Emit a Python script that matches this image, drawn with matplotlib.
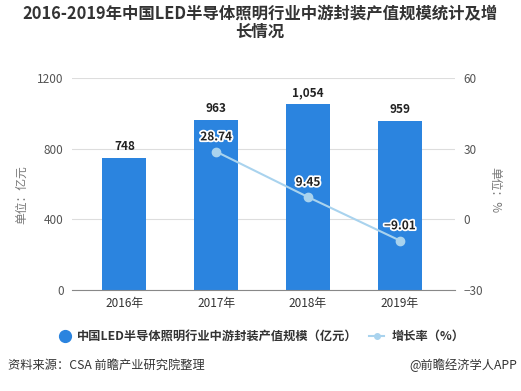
import matplotlib
matplotlib.use("Agg")
import matplotlib.pyplot as plt
import matplotlib.patheffects as pe
from matplotlib.lines import Line2D

plt.rcParams['font.family'] = ['Noto Sans CJK SC', 'DejaVu Sans']

years = ['2016年', '2017年', '2018年', '2019年']
values = [748, 963, 1054, 959]
value_labels = ['748', '963', '1,054', '959']
growth_years = [1, 2, 3]
growth = [28.74, 9.45, -9.01]
growth_labels = ['28.74', '9.45', '−9.01']

W, H = 521, 391
fig = plt.figure(figsize=(W/100, H/100), dpi=100)
L, R, T, B = 72, 455, 78, 290
ax = fig.add_axes([L/W, 1-B/H, (R-L)/W, (B-T)/H])
ax2 = ax.twinx()

bar_color = '#2b84df'
line_color = '#a9d3ee'
x = list(range(len(years)))
ax.bar(x, values, width=0.48, color=bar_color, zorder=2)
ax.set_ylim(0, 1200)
ax.set_yticks([0, 400, 800, 1200])
ax.set_xlim(-0.57, 3.6)
ax.set_xticks(x)
ax.set_xticklabels(years)
ax.grid(axis='y', color='#dddddd', linewidth=0.8, zorder=0)
for s in ['top', 'left', 'right']:
    ax.spines[s].set_visible(False)
    ax2.spines[s].set_visible(False)
ax.spines['bottom'].set_color('#888888')
ax2.spines['bottom'].set_visible(False)
ax.tick_params(axis='y', length=0, labelsize=8.5, labelcolor='#555555', pad=6)
ax.tick_params(axis='x', length=0, labelsize=8.5, labelcolor='#333333', pad=5)
for xi, v, lab in zip(x, values, value_labels):
    ax.text(xi, v + 25, lab, ha='center', va='bottom', fontsize=8.5, fontweight='bold', color='#222222')

ax2.plot(growth_years, growth, color=line_color, linewidth=1.5, marker='o', markersize=6,
         markerfacecolor=line_color, markeredgecolor=line_color, zorder=3)
ax2.set_ylim(-30, 60)
ax2.set_yticks([-30, 0, 30, 60])
ax2.tick_params(axis='y', length=0, labelsize=8.5, labelcolor='#555555', pad=6)
for xi, g, lab in zip(growth_years, growth, growth_labels):
    ax2.text(xi, g + 3.5, lab, ha='center', va='bottom', fontsize=8.5, fontweight='bold', color='#222222',
             path_effects=[pe.withStroke(linewidth=2.5, foreground='white')])

fig.text(22/W, 1-195/H, '单位：亿元', rotation=90, ha='center', va='center', fontsize=8.5, color='#777777')
fig.text(495/W, 1-190/H, '单位：%', rotation=-90, ha='center', va='center', fontsize=8.5, color='#777777')

fig.text(260/W, 1-23/H, '2016-2019年中国LED半导体照明行业中游封装产值规模统计及增\n长情况',
         ha='center', va='center', fontsize=11.8, fontweight='bold', color='#333333', linespacing=0.95)

# legend
fig.add_artist(Line2D([65/W], [1-336/H], marker='o', markersize=8.5, color=bar_color, linestyle='None'))
fig.text(77/W, 1-336/H, '中国LED半导体照明行业中游封装产值规模（亿元）', ha='left', va='center',
         fontsize=8.8, fontweight='bold', color='#333333')
fig.add_artist(Line2D([369/W, 384/W], [1-336/H, 1-336/H], color=line_color, linewidth=1.5))
fig.add_artist(Line2D([376.5/W], [1-336/H], marker='o', markersize=4, color=line_color, linestyle='None'))
fig.text(392/W, 1-336/H, '增长率（%）', ha='left', va='center', fontsize=8.8, fontweight='bold', color='#333333')

fig.text(8/W, 1-365/H, '资料来源：CSA 前瞻产业研究院整理', ha='left', va='center', fontsize=8.8, color='#333333')
fig.text(517/W, 1-365/H, '@前瞻经济学人APP', ha='right', va='center', fontsize=8.8, color='#333333')

fig.savefig('out.png', dpi=100)
